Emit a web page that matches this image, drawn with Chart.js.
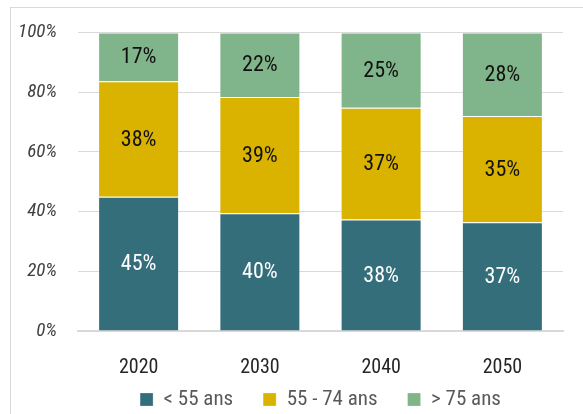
<!DOCTYPE html>
<html><head><meta charset="utf-8">
<script src="https://cdn.jsdelivr.net/npm/chart.js@4"></script>
<style>
html,body{margin:0;padding:0;background:#fff;}
#wrap{position:relative;width:583px;height:414px;overflow:hidden;}
#frame{position:absolute;left:10px;top:7px;width:600px;height:420px;border-left:1px solid #d9d9d9;border-top:1px solid #d9d9d9;}
#c{position:absolute;left:0;top:0;}
</style></head>
<body><div id="wrap"><div id="frame"></div><canvas id="c" width="583" height="414"></canvas></div>
<script>
const categories = ['2020', '2030', '2040', '2050'];
const seriesNames = ['< 55 ans', '55 - 74 ans', '> 75 ans'];
// shares (%)
const under55 = [45.0, 39.4, 37.3, 36.4];
const from55to74 = [38.6, 39.0, 37.5, 35.6];
const over75 = [16.4, 21.6, 25.2, 28.0];
// printed labels (%)
const under55Labels = [45, 40, 38, 37];
const from55to74Labels = [38, 39, 37, 35];
const over75Labels = [17, 22, 25, 28];
const yTicks = [0, 20, 40, 60, 80, 100];

const FAM = "'Roboto Condensed','Roboto', sans-serif";
const colors = ['#346e7b', '#d9b300', '#80b48a'];
const labelColors = ['#ffffff', '#111111', '#111111'];
const labelSets = [under55Labels, from55to74Labels, over75Labels];

const segLabels = {
  id: 'segLabels',
  afterDatasetsDraw(chart) {
    const ctx = chart.ctx;
    ctx.save();
    ctx.font = '22px ' + FAM;
    ctx.textAlign = 'center';
    ctx.textBaseline = 'middle';
    chart.data.datasets.forEach((ds, i) => {
      const meta = chart.getDatasetMeta(i);
      meta.data.forEach((bar, j) => {
        ctx.fillStyle = labelColors[i];
        ctx.fillText(labelSets[i][j] + '%', bar.x, (bar.y + bar.base) / 2 + 1);
      });
    });
    ctx.restore();
  }
};

// place the legend row under the x labels
const legendPlace = {
  id: 'legendPlace',
  afterLayout(chart) {
    const lg = chart.legend;
    if (lg) { const h = lg.height; lg.top = 359; lg.bottom = 359 + h; }
  }
};

new Chart(document.getElementById('c'), {
  type: 'bar',
  data: {
    labels: categories,
    datasets: [under55, from55to74, over75].map((d, i) => ({
      label: seriesNames[i],
      data: d,
      backgroundColor: colors[i],
      borderColor: 'rgba(255,255,255,0.25)',
      borderWidth: 1,
      categoryPercentage: 1,
      barPercentage: 0.668
    }))
  },
  options: {
    responsive: false,
    animation: false,
    devicePixelRatio: 1,
    layout: { padding: { left: 0, right: 20, top: 27, bottom: -26 } },
    plugins: {
      tooltip: { enabled: false },
      legend: {
        position: 'bottom',
        fullSize: false,
        labels: {
          boxWidth: 13, boxHeight: 13, padding: 30,
          color: '#595959',
          font: { size: 21, family: FAM }
        }
      }
    },
    scales: {
      x: {
        stacked: true,
        grid: { display: false, drawTicks: false },
        border: { display: true, color: '#d9d9d9', width: 2 },
        ticks: { color: '#262626', padding: 25, font: { size: 20, family: FAM } },
        afterFit(s) { s.height = 48; }
      },
      y: {
        stacked: true,
        min: 0, max: 100,
        afterBuildTicks(s) { s.ticks = yTicks.map(v => ({ value: v })); },
        grid: { color: '#d9d9d9', lineWidth: 1, drawTicks: false },
        border: { display: false },
        ticks: {
          color: '#404040', padding: 21,
          font: { size: 19, style: 'italic', family: FAM },
          callback: v => v + '%'
        },
        afterFit(s) { s.width = 78; }
      }
    }
  },
  plugins: [segLabels, legendPlace]
});
</script></body></html>
